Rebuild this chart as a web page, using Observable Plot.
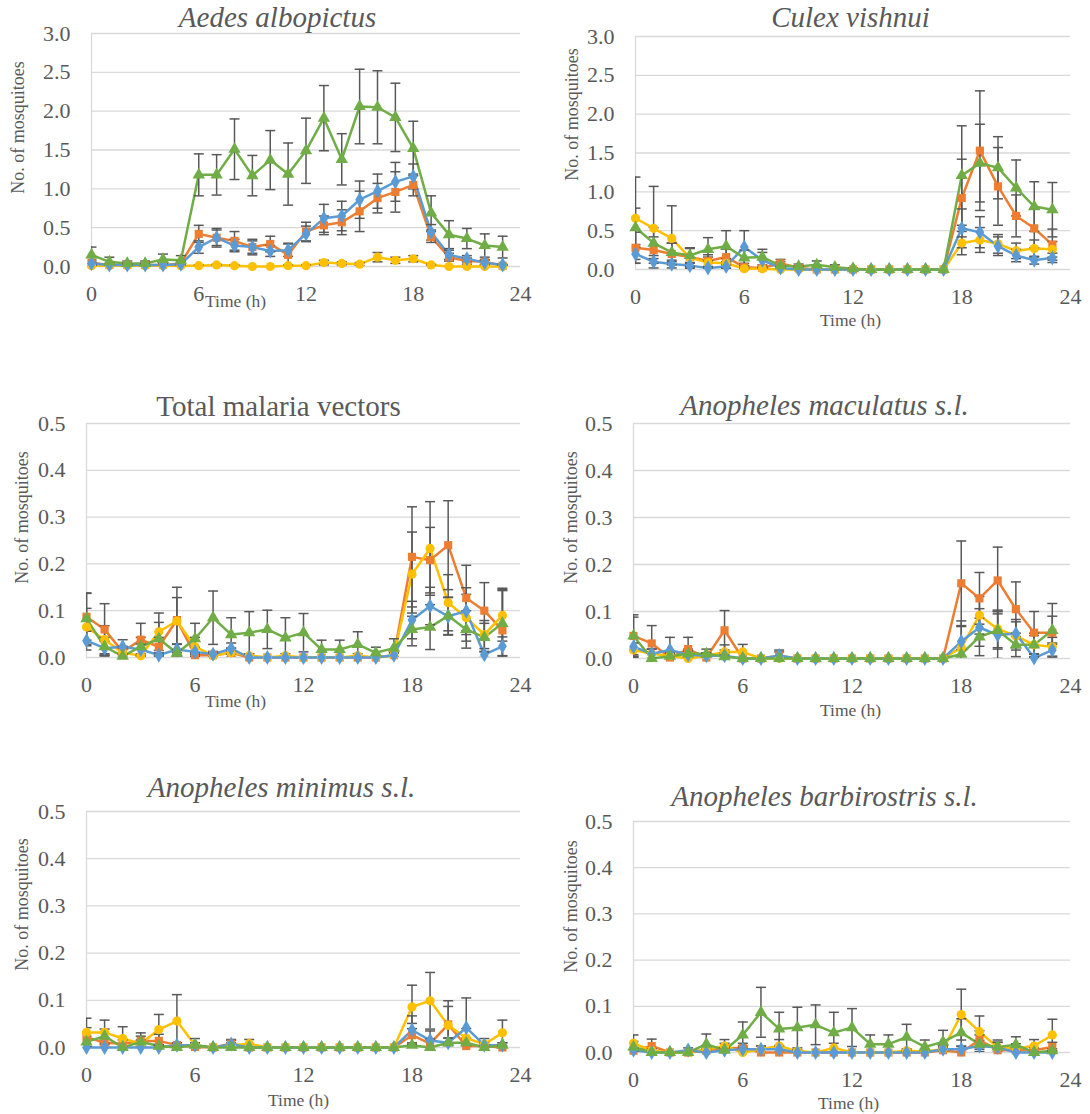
<!DOCTYPE html>
<html><head><meta charset="utf-8">
<script src="https://cdn.jsdelivr.net/npm/d3@7"></script>
<script src="https://cdn.jsdelivr.net/npm/@observablehq/plot@0.6"></script>
<style>
body{margin:0;background:#fff;}
#chart{position:relative;width:1090px;height:1114px;overflow:hidden;font-family:"Liberation Serif","Times New Roman",serif;}
.panel{position:absolute;}
.panel svg text{font-family:"Liberation Serif","Times New Roman",serif;}
</style></head><body><div id="chart"></div>
<script>
// ---------- DATA ----------
const hours = d3.range(24);
const xTickValues = [0, 6, 12, 18, 24];
const yTicksLarge = [0, 0.5, 1.0, 1.5, 2.0, 2.5, 3.0];
const yTicksSmall = [0, 0.1, 0.2, 0.3, 0.4, 0.5];
const seriesNames = ["Series 1", "Series 2", "Series 3", "Series 4"];
const panelTitles = ["Aedes albopictus", "Culex vishnui", "Total malaria vectors",
  "Anopheles maculatus s.l.", "Anopheles minimus s.l.", "Anopheles barbirostris s.l."];
const yAxisTitle = "No. of mosquitoes";
const xAxisTitle = "Time (h)";

// Aedes albopictus
const aedesS1 = [0.04,0.02,0.02,0.02,0.02,0.03,0.25,0.37,0.27,0.25,0.20,0.21,0.42,0.62,0.65,0.86,0.97,1.09,1.16,0.44,0.15,0.10,0.05,0.02];
const aedesS1Err = [0.03,0.01,0.01,0.01,0.02,0.02,0.08,0.10,0.08,0.08,0.07,0.08,0.10,0.18,0.19,0.24,0.22,0.25,0.16,0.10,0.06,0.04,0.03,0.01];
const aedesS2 = [0.05,0.02,0.02,0.02,0.02,0.04,0.42,0.37,0.33,0.25,0.29,0.15,0.45,0.53,0.57,0.71,0.88,0.96,1.05,0.38,0.12,0.07,0.06,0.01];
const aedesS2Err = [0.04,0.02,0.02,0.02,0.02,0.03,0.11,0.12,0.12,0.10,0.10,0.15,0.12,0.12,0.16,0.26,0.19,0.26,0.14,0.07,0.05,0.04,0.03,0.01];
const aedesS3 = [0.01,0.01,0.01,0.01,0.01,0.01,0.01,0.02,0.01,0.00,0.00,0.01,0.01,0.05,0.04,0.03,0.12,0.08,0.10,0.02,0.00,0.00,0.00,0.00];
const aedesS3Err = [0.01,0.01,0.01,0.01,0.01,0.01,0.01,0.01,0.01,0,0,0.01,0.01,0.03,0.02,0.02,0.06,0.04,0.04,0.01,0,0,0,0];
const aedesS4 = [0.15,0.06,0.04,0.04,0.09,0.08,1.18,1.18,1.51,1.17,1.37,1.19,1.49,1.91,1.38,2.06,2.05,1.92,1.52,0.69,0.41,0.36,0.27,0.25];
const aedesS4Err = [0.10,0.06,0.03,0.03,0.07,0.06,0.27,0.26,0.39,0.26,0.38,0.40,0.42,0.42,0.33,0.48,0.47,0.44,0.35,0.22,0.18,0.13,0.15,0.14];

// Culex vishnui
const culexS1 = [0.20,0.10,0.07,0.05,0.02,0.04,0.29,0.12,0.02,0,0,0,0,0,0,0,0,0,0.53,0.48,0.30,0.18,0.12,0.15];
const culexS1Err = [0.12,0.08,0.05,0.04,0.02,0.03,0.21,0.10,0.02,0,0,0,0,0,0,0,0,0,0.25,0.20,0.12,0.08,0.05,0.06];
const culexS2 = [0.28,0.25,0.20,0.16,0.11,0.16,0.03,0.02,0.08,0.02,0,0,0,0,0,0,0,0,0.92,1.53,1.07,0.69,0.53,0.32];
const culexS2Err = [0.20,0.17,0.14,0.12,0.08,0.10,0.02,0.02,0.05,0.02,0,0,0,0,0,0,0,0,0.50,0.77,0.50,0.27,0.25,0.20];
const culexS3 = [0.66,0.53,0.40,0.15,0.09,0.08,0.01,0.01,0,0,0,0,0,0,0,0,0,0,0.34,0.38,0.33,0.24,0.27,0.26];
const culexS3Err = [0.53,0.54,0.42,0.12,0.07,0.06,0.01,0.01,0,0,0,0,0,0,0,0,0,0,0.15,0.16,0.12,0.10,0.11,0.10];
const culexS4 = [0.54,0.34,0.22,0.18,0.26,0.30,0.15,0.16,0.05,0.04,0.06,0.03,0.01,0,0,0,0,0,1.21,1.37,1.31,1.05,0.81,0.77];
const culexS4Err = [0.25,0.20,0.12,0.10,0.15,0.20,0.10,0.10,0.05,0.03,0.05,0.03,0.01,0,0,0,0,0,0.64,0.50,0.40,0.36,0.32,0.35];

// Total malaria vectors
const malariaS1 = [0.036,0.020,0.023,0.017,0.005,0.017,0.012,0.007,0.019,0,0,0,0,0,0,0,0,0.005,0.080,0.110,0.088,0.099,0.006,0.024];
const malariaS1Err = [0.020,0.015,0.015,0.012,0.005,0.012,0.010,0.006,0.012,0,0,0,0,0,0,0,0,0.005,0.040,0.040,0.040,0.050,0.006,0.020];
const malariaS2 = [0.087,0.060,0.012,0.038,0.023,0.080,0.005,0.005,0.010,0,0,0,0,0,0,0,0,0.005,0.215,0.208,0.240,0.127,0.100,0.058];
const malariaS2Err = [0.050,0.055,0.012,0.035,0.020,0.070,0.005,0.005,0.010,0,0,0,0,0,0,0,0,0.005,0.107,0.070,0.095,0.070,0.060,0.090];
const malariaS3 = [0.065,0.038,0.010,0.004,0.055,0.078,0.023,0.004,0.010,0.004,0,0.004,0,0,0,0.004,0,0.005,0.178,0.233,0.117,0.085,0.049,0.090];
const malariaS3Err = [0.040,0.030,0.010,0.004,0.040,0.050,0.020,0.004,0.010,0.004,0,0.004,0,0,0,0.004,0,0.005,0.090,0.100,0.060,0.050,0.030,0.055];
const malariaS4 = [0.083,0.023,0.003,0.023,0.040,0.009,0.040,0.085,0.049,0.053,0.060,0.042,0.053,0.017,0.017,0.028,0.010,0.020,0.060,0.065,0.089,0.060,0.043,0.073];
const malariaS4Err = [0.055,0.020,0.003,0.020,0.035,0.008,0.033,0.057,0.036,0.045,0.041,0.043,0.041,0.020,0.020,0.027,0.012,0.020,0.035,0.048,0.040,0.040,0.030,0.070];

// Anopheles maculatus s.l.
const maculatusS1 = [0.025,0.010,0.018,0.008,0.006,0.006,0,0,0.006,0,0,0,0,0,0,0,0,0,0.036,0.066,0.050,0.053,0.001,0.018];
const maculatusS1Err = [0.020,0.010,0.027,0.008,0.006,0.006,0,0,0.008,0,0,0,0,0,0,0,0,0,0.044,0.040,0.050,0.030,0.001,0.015];
const maculatusS2 = [0.048,0.032,0.002,0.020,0.002,0.060,0,0,0.006,0,0,0,0,0,0,0,0,0,0.160,0.128,0.166,0.105,0.055,0.055];
const maculatusS2Err = [0.045,0.038,0.002,0.025,0.002,0.042,0,0,0.012,0,0,0,0,0,0,0,0,0,0.090,0.055,0.071,0.058,0.045,0.062];
const maculatusS3 = [0.018,0.010,0.006,0,0.006,0.014,0.014,0,0,0,0,0,0,0,0,0,0,0,0.023,0.092,0.063,0.048,0.029,0.025];
const maculatusS3Err = [0.015,0.010,0.006,0,0.006,0.015,0.016,0,0,0,0,0,0,0,0,0,0,0,0.045,0.040,0.040,0.030,0.020,0.020];
const maculatusS4 = [0.048,0,0.005,0.010,0.010,0.004,0,0,0,0,0,0,0,0,0,0,0,0,0.009,0.046,0.060,0.029,0.029,0.060];
const maculatusS4Err = [0.040,0,0.005,0.010,0.010,0.004,0,0,0,0,0,0,0,0,0,0,0,0,0.010,0.040,0.040,0.025,0.025,0.030];

// Anopheles minimus s.l.
const minimusS1 = [0,0,0,0,0,0.005,0.005,0,0.007,0,0,0,0,0,0,0,0,0,0.037,0.015,0.010,0.042,0.005,0.005];
const minimusS1Err = [0,0,0,0,0,0.005,0.005,0,0.008,0,0,0,0,0,0,0,0,0,0.030,0.020,0.010,0.063,0.005,0.005];
const minimusS2 = [0.022,0.010,0.008,0.014,0.014,0.005,0.001,0,0.008,0,0,0,0,0,0,0,0,0,0.026,0.008,0.049,0.003,0.003,0];
const minimusS2Err = [0.020,0.010,0.008,0.017,0.014,0.005,0.001,0,0.009,0,0,0,0,0,0,0,0,0,0.025,0.010,0.050,0.003,0.003,0];
const minimusS3 = [0.032,0.032,0.019,0.008,0.038,0.056,0.005,0,0.005,0.008,0,0,0,0,0,0,0,0,0.086,0.099,0.047,0.020,0.007,0.031];
const minimusS3Err = [0.030,0.026,0.025,0.008,0.032,0.056,0.014,0,0.005,0.009,0,0,0,0,0,0,0,0,0.046,0.060,0.040,0.020,0.012,0.027];
const minimusS4 = [0.012,0.024,0,0.012,0.003,0,0.005,0,0,0,0,0,0,0,0,0,0,0,0.005,0,0.010,0.010,0,0.005];
const minimusS4Err = [0.012,0.015,0,0.012,0.003,0,0.005,0,0,0,0,0,0,0,0,0,0,0,0.005,0,0.010,0.010,0,0.005];

// Anopheles barbirostris s.l.
const barbiS1 = [0.005,0,0,0.005,0,0.005,0.007,0.007,0.007,0,0,0,0,0,0,0,0,0.007,0.007,0.014,0.011,0,0,0];
const barbiS1Err = [0.005,0,0,0.005,0,0.005,0.007,0.007,0.007,0,0,0,0,0,0,0,0,0.007,0.007,0.012,0.011,0,0,0];
const barbiS2 = [0.004,0.014,0,0,0.004,0.010,0.010,0,0,0,0,0,0,0,0,0,0,0.005,0,0.027,0.005,0.005,0.005,0.012];
const barbiS2Err = [0.004,0.015,0,0,0.004,0.010,0.010,0,0,0,0,0,0,0,0,0,0,0.005,0,0.020,0.005,0.005,0.005,0.010];
const barbiS3 = [0.020,0.004,0,0,0.007,0.014,0,0.007,0.014,0.003,0,0.010,0,0,0,0.004,0.002,0.007,0.082,0.045,0.011,0.009,0.014,0.038];
const barbiS3Err = [0.018,0.004,0,0,0.007,0.014,0,0.007,0.014,0.003,0,0.010,0,0,0,0.004,0.002,0.007,0.055,0.034,0.011,0.010,0.014,0.034];
const barbiS4 = [0.012,0,0,0,0.018,0.005,0.038,0.087,0.051,0.054,0.060,0.043,0.054,0.018,0.018,0.033,0.012,0.023,0.043,0.018,0.012,0.017,0,0.004];
const barbiS4Err = [0.012,0,0,0,0.022,0.005,0.028,0.054,0.036,0.044,0.043,0.044,0.041,0.020,0.020,0.028,0.015,0.025,0.030,0.020,0.015,0.017,0,0.004];

// ---------- STYLE / LAYOUT ----------
const FONT = '"Liberation Serif", "Times New Roman", serif';
const TEXT = "#595959";
const seriesColors = ["#5B9BD5", "#ED7D31", "#FFC000", "#70AD47"];
const seriesSymbols = ["diamond", "square", "circle", "triangle"];
const drawOrder = [1, 2, 0, 3];

const panels = [
  {vals:[aedesS1,aedesS2,aedesS3,aedesS4], errs:[aedesS1Err,aedesS2Err,aedesS3Err,aedesS4Err], yTicks: yTicksLarge,
   left:0, top:0, w:545, h:320, mL:91, mR:25, mT:33, mB:54, italic:true, tx:277, ty:17, yx:18, yy:127, xx:235, xy:301},
  {vals:[culexS1,culexS2,culexS3,culexS4], errs:[culexS1Err,culexS2Err,culexS3Err,culexS4Err], yTicks: yTicksLarge,
   left:545, top:0, w:545, h:330, mL:90, mR:20, mT:36, mB:61, italic:true, tx:850, ty:17, yx:572, yy:114, xx:850, xy:320},
  {vals:[malariaS1,malariaS2,malariaS3,malariaS4], errs:[malariaS1Err,malariaS2Err,malariaS3Err,malariaS4Err], yTicks: yTicksSmall,
   left:0, top:370, w:545, h:340, mL:86, mR:25, mT:53, mB:53, italic:false, tx:278, ty:406, yx:22, yy:517, xx:235, xy:701},
  {vals:[maculatusS1,maculatusS2,maculatusS3,maculatusS4], errs:[maculatusS1Err,maculatusS2Err,maculatusS3Err,maculatusS4Err], yTicks: yTicksSmall,
   left:545, top:370, w:545, h:345, mL:88, mR:20, mT:53, mB:57, italic:true, tx:824, ty:405, yx:571, yy:517, xx:850, xy:710},
  {vals:[minimusS1,minimusS2,minimusS3,minimusS4], errs:[minimusS1Err,minimusS2Err,minimusS3Err,minimusS4Err], yTicks: yTicksSmall,
   left:0, top:760, w:545, h:354, mL:86, mR:25, mT:51, mB:67, italic:true, tx:281, ty:787, yx:22, yy:904, xx:298, xy:1100},
  {vals:[barbiS1,barbiS2,barbiS3,barbiS4], errs:[barbiS1Err,barbiS2Err,barbiS3Err,barbiS4Err], yTicks: yTicksSmall,
   left:545, top:760, w:545, h:354, mL:88, mR:20, mT:61, mB:62, italic:true, tx:824, ty:796, yx:571, yy:906, xx:848, xy:1103}
];

const capSymbol = {draw(ctx) { ctx.moveTo(-5, 0); ctx.lineTo(5, 0); }};

const chart = document.getElementById("chart");

panels.forEach((p, k) => {
  const data = [];
  for (const i of drawOrder) {
    hours.forEach((h, j) => data.push({h, v: p.vals[i][j], e: p.errs[i][j], s: seriesNames[i]}));
  }
  const bars = data.filter(d => d.e > 0);
  const ox = p.left + p.mL, oy = p.top + p.mT;
  const txt = (s, x, y, opts) => Plot.text([s], {frameAnchor: "top-left", dx: x - ox, dy: y - oy, text: d => d,
    fill: TEXT, fontFamily: FONT, textAnchor: "middle", lineAnchor: "middle", ...opts});
  const svg = Plot.plot({
    width: p.w, height: p.h,
    marginLeft: p.mL, marginRight: p.mR, marginTop: p.mT, marginBottom: p.mB,
    style: `font-family: ${FONT}; color: ${TEXT}; background: transparent; overflow: visible;`,
    x: {domain: [0, 24]},
    y: {domain: [0, d3.max(p.yTicks)]},
    color: {domain: seriesNames, range: seriesColors},
    symbol: {domain: seriesNames, range: seriesSymbols},
    marks: [
      Plot.gridY({ticks: p.yTicks, stroke: "#d9d9d9", strokeOpacity: 1, strokeWidth: 1.3}),
      Plot.ruleX([0], {stroke: "#d9d9d9", strokeWidth: 1.3}),
      Plot.axisY({ticks: p.yTicks, tickFormat: d3.format(".1f"), tickSize: 0, tickPadding: 21, fontSize: 22, fontFamily: FONT, fill: TEXT, label: null}),
      Plot.axisX({ticks: xTickValues, tickFormat: d => String(d), tickSize: 0, tickPadding: 19, fontSize: 22, fontFamily: FONT, fill: TEXT, label: null}),
      Plot.line(data, {x: "h", y: "v", z: "s", stroke: "s", strokeWidth: 2.5}),
      Plot.ruleX(bars, {x: "h", y1: d => d.v - d.e, y2: d => d.v + d.e, stroke: "#595959", strokeWidth: 1.5, clip: true}),
      Plot.dot(bars, {x: "h", y: d => d.v + d.e, symbol: capSymbol, fill: "none", stroke: "#595959", strokeWidth: 1.5, clip: true}),
      Plot.dot(bars, {x: "h", y: d => d.v - d.e, symbol: capSymbol, fill: "none", stroke: "#595959", strokeWidth: 1.5, clip: true}),
      Plot.dot(data, {x: "h", y: "v", symbol: "s", fill: "s", r: 4.6}),
      txt(panelTitles[k], p.tx, p.ty, {fontSize: 29, fontStyle: p.italic ? "italic" : "normal"}),
      txt(yAxisTitle, p.yx, p.yy, {fontSize: 18, rotate: -90}),
      txt(xAxisTitle, p.xx, p.xy, {fontSize: 17.5})
    ]
  });
  const div = document.createElement("div");
  div.className = "panel";
  div.style.left = p.left + "px";
  div.style.top = p.top + "px";
  div.appendChild(svg);
  chart.appendChild(div);
});
</script>
</body></html>
